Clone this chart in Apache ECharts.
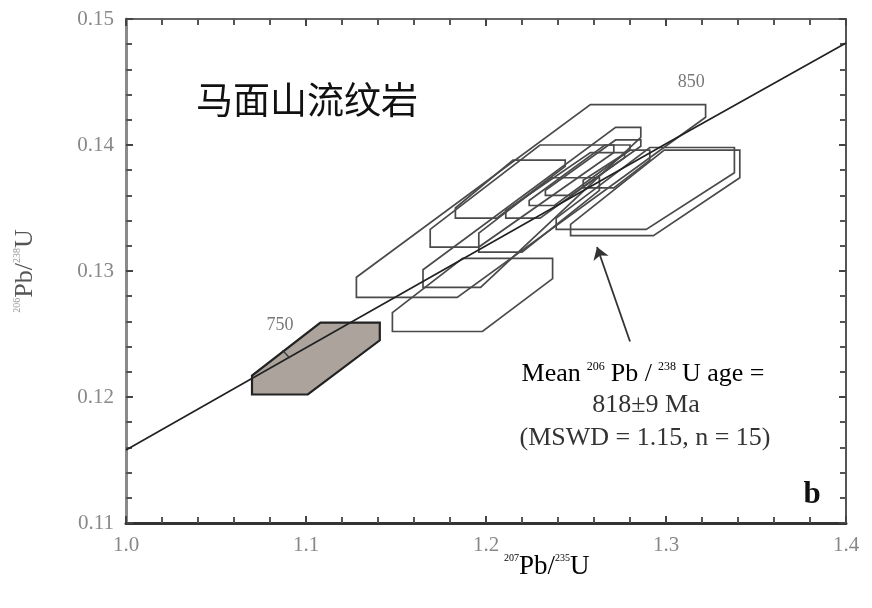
<!DOCTYPE html>
<html><head><meta charset="utf-8">
<script src="https://cdn.jsdelivr.net/npm/echarts@6/dist/echarts.min.js"></script>
<style>html,body{margin:0;padding:0;background:#fff}#c{width:872px;height:608px}</style>
</head><body><div id="c"></div>
<script>
// axis ranges / ticks
const xRange = [1.0, 1.4];
const yRange = [0.11, 0.15];
const xStep = 0.1;
const yStep = 0.01;
// concordia curve
const concordia = [[1.0,0.1158],[1.1,0.1239],[1.2,0.1320],[1.3,0.1401],[1.4,0.1481]];
const tick750 = [[1.091,0.1231],[1.087,0.1237]];
const age750 = [1.0856, 0.1257];
const age850 = [1.314, 0.1450];
// shaded (excluded) analysis box
const filledBox = [[1.108,0.1259],[1.141,0.1259],[1.141,0.1245],[1.101,0.1202],[1.070,0.1202],[1.070,0.1217]];
// outlined analysis boxes
const boxes = [
  [[1.258,0.1432],[1.322,0.1432],[1.322,0.1422],[1.184,0.1279],[1.128,0.1279],[1.128,0.1295]],
  [[1.187,0.1310],[1.237,0.1310],[1.237,0.1294],[1.198,0.1252],[1.148,0.1252],[1.148,0.1267]],
  [[1.272,0.1414],[1.286,0.1414],[1.286,0.1406],[1.197,0.1287],[1.165,0.1287],[1.165,0.1301]],
  [[1.230,0.1400],[1.271,0.1400],[1.271,0.1394],[1.196,0.1319],[1.169,0.1319],[1.169,0.1333]],
  [[1.291,0.1398],[1.338,0.1398],[1.338,0.1378],[1.289,0.1333],[1.239,0.1333],[1.239,0.1342]],
  [[1.299,0.1396],[1.341,0.1396],[1.341,0.1374],[1.293,0.1328],[1.247,0.1328],[1.247,0.1337]],
  [[1.258,0.1394],[1.277,0.1394],[1.277,0.1390],[1.230,0.1342],[1.211,0.1342],[1.211,0.1348]],
  [[1.280,0.1396],[1.291,0.1396],[1.291,0.1388],[1.271,0.1366],[1.254,0.1366],[1.254,0.1372]],
  [[1.236,0.1374],[1.263,0.1374],[1.263,0.1364],[1.220,0.1315],[1.196,0.1315],[1.196,0.1330]],
  [[1.215,0.1388],[1.244,0.1388],[1.244,0.1383],[1.206,0.1342],[1.183,0.1342],[1.183,0.1350]],
  [[1.266,0.1400],[1.280,0.1400],[1.280,0.1396],[1.238,0.1352],[1.224,0.1352],[1.224,0.1356]],
  [[1.272,0.1404],[1.286,0.1404],[1.286,0.1399],[1.247,0.1360],[1.233,0.1360],[1.233,0.1364]]
];
// arrow from annotation to the mean
const arrow = [[1.280,0.1244],[1.2617,0.1319]];
// texts
const titleText = '马面山流纹岩';
const meanLines = ['818±9 Ma', '(MSWD = 1.15, n = 15)'];

const chart = echarts.init(document.getElementById('c'), null, {renderer:'canvas'});
const serif = 'Liberation Serif';

function polyRender(list, style) {
  return function (params, api) {
    const pts = list[params.dataIndex].map(p => api.coord(p));
    return {type:'polygon', shape:{points:pts}, style:style};
  };
}

function xAxisCfg(pos, lineColor, w, showLabel) {
  return {
    type:'value', min:xRange[0], max:xRange[1], interval:xStep, position:pos,
    axisLine:{show:true, onZero:false, lineStyle:{color:lineColor, width:w}},
    axisTick:{show:true, inside:true, length:7, lineStyle:{color:'#444', width:2}},
    minorTick:{show:true, splitNumber:5, length:6, lineStyle:{color:'#555', width:2}},
    splitLine:{show:false}, minorSplitLine:{show:false},
    axisLabel:{show:showLabel, formatter:v=>v.toFixed(1), color:'#888', fontFamily:serif, fontSize:21, margin:12}
  };
}
function yAxisCfg(pos, lineColor, w, showLabel) {
  return {
    type:'value', min:yRange[0], max:yRange[1], interval:yStep, position:pos,
    axisLine:{show:true, onZero:false, lineStyle:{color:lineColor, width:w}},
    axisTick:{show:true, inside:true, length:7, lineStyle:{color:'#444', width:2}},
    minorTick:{show:true, splitNumber:5, length:6, lineStyle:{color:'#555', width:2}},
    splitLine:{show:false}, minorSplitLine:{show:false},
    axisLabel:{show:showLabel, formatter:v=>v.toFixed(2), color:'#888', fontFamily:serif, fontSize:21, margin:12}
  };
}

const supStyle = {fontFamily:serif, fontSize:10, color:'#999', verticalAlign:'top', padding:[0,0,14,0]};
const yName = yAxisCfg('left', '#8a8a8a', 3, true);
yName.name = '{sup|206}{main|Pb/}{sup|238}{main|U}';
yName.nameLocation = 'middle';
yName.nameRotate = 90;
yName.nameGap = 88;
yName.nameTextStyle = {rich:{
  main:{fontFamily:serif, fontSize:26, color:'#555'},
  sup:supStyle
}};

chart.setOption({
  animation:false,
  backgroundColor:'#fff',
  grid:{left:126, right:26, top:19, bottom:85, containLabel:false},
  xAxis:[xAxisCfg('bottom', '#333', 3, true), xAxisCfg('top', '#666', 2, false)],
  yAxis:[yName, yAxisCfg('right', '#555', 2, false)],
  series:[
    {type:'custom', xAxisIndex:0, yAxisIndex:0, z:2,
     data: boxes.map(b=>b[0]),
     renderItem: polyRender(boxes, {fill:'none', stroke:'#4a4a4a', lineWidth:1.7})},
    {type:'custom', xAxisIndex:0, yAxisIndex:0, z:2,
     data: [filledBox[0]],
     renderItem: polyRender([filledBox], {fill:'#aba39c', stroke:'#222', lineWidth:2.2})},
    {type:'line', data:concordia, symbol:'none', z:3,
     lineStyle:{color:'#222', width:1.7}},
    {type:'line', data:tick750, symbol:'none', z:3,
     lineStyle:{color:'#333', width:1.3}},
    {type:'lines', coordinateSystem:'cartesian2d', z:4,
     data:[{coords:arrow}], symbol:['none','arrow'], symbolSize:12,
     lineStyle:{color:'#333', width:1.8, opacity:1}},
    {type:'scatter', data:[age750, age850], symbolSize:0, z:5,
     label:{show:true, position:'inside', color:'#555', fontFamily:serif, fontSize:18,
       formatter:p=>p.dataIndex===0?'750':'850'}}
  ],
  graphic:[
    {type:'text', left:196, top:81, style:{text:titleText, font:'37px "Noto Sans CJK SC"', fill:'#111'}},
    {type:'text', left:504, top:553, style:{
      text:'{sup|207}{main|Pb/}{sup|235}{main|U}',
      rich:{main:{fontFamily:serif, fontSize:27, color:'#555'}, sup:supStyle}}},
    {type:'text', x:643, y:374, style:{
      text:'{main|Mean}{sup|206}{main|Pb /}{sup|238}{main|U age =}', align:'center', verticalAlign:'middle',
      rich:{main:{fontFamily:serif, fontSize:26, color:'#333'},
            sup:{fontFamily:serif, fontSize:12, color:'#777', verticalAlign:'top', padding:[0,6,14,6]}}}},
    {type:'text', x:646, y:405, style:{text:meanLines[0], font:'26px "Liberation Serif"', fill:'#333', align:'center', verticalAlign:'middle'}},
    {type:'text', x:645, y:438, style:{text:meanLines[1], font:'26px "Liberation Serif"', fill:'#333', align:'center', verticalAlign:'middle'}},
    {type:'text', x:812, y:495, style:{text:'b', font:'bold 31px "Liberation Serif"', fill:'#111', align:'center', verticalAlign:'middle'}}
  ]
});
</script></body></html>
